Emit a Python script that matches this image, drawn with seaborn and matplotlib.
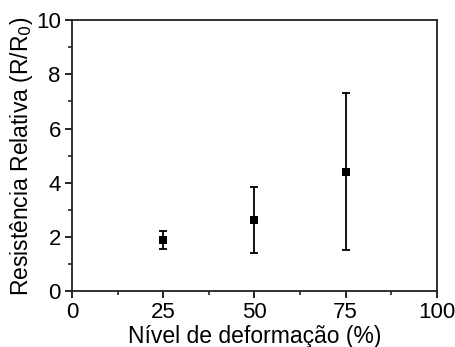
import matplotlib
matplotlib.use("Agg")
import matplotlib.pyplot as plt
from matplotlib.ticker import MultipleLocator
import seaborn as sns
import pandas as pd

deformation = [25, 50, 75]
resistance = [1.90, 2.62, 4.40]
err_low = [1.55, 1.40, 1.51]
err_high = [2.22, 3.85, 7.32]

sns.set_theme(style="ticks")
plt.rcParams["font.family"] = ["Liberation Sans", "DejaVu Sans"]

df = pd.DataFrame({"x": deformation, "y": resistance})
lower = [m - lo for m, lo in zip(resistance, err_low)]
upper = [hi - m for m, hi in zip(resistance, err_high)]

fig = plt.figure(figsize=(4.55, 3.47), dpi=100)
ax = fig.add_axes([0.158, 0.161, 0.802, 0.781])

ax.errorbar(deformation, resistance, yerr=[lower, upper], fmt="none",
            ecolor="black", elinewidth=1.3, capsize=3, capthick=1.3, zorder=2)
sns.scatterplot(data=df, x="x", y="y", marker="s", s=40, color="black",
                edgecolor="black", linewidth=0, ax=ax, zorder=3)

ax.set_xlim(0, 100)
ax.set_ylim(0, 10)
ax.xaxis.set_major_locator(MultipleLocator(25))
ax.xaxis.set_minor_locator(MultipleLocator(12.5))
ax.yaxis.set_major_locator(MultipleLocator(2))
ax.yaxis.set_minor_locator(MultipleLocator(1))
ax.tick_params(which="major", direction="out", length=5, width=1.2,
               labelsize=16, colors="black", pad=3)
ax.tick_params(which="minor", direction="out", length=3, width=1.2)
ax.tick_params(top=False, right=False)
for s in ax.spines.values():
    s.set_linewidth(1.3)
    s.set_color("#222222")

ax.set_xlabel("Nível de deformação (%)", fontsize=16.5, labelpad=1,
              color="black")
ax.set_ylabel("Resistência Relativa (R/R$_0$)", fontsize=16.5, labelpad=1,
              color="black")

fig.savefig("out.png", dpi=100)
